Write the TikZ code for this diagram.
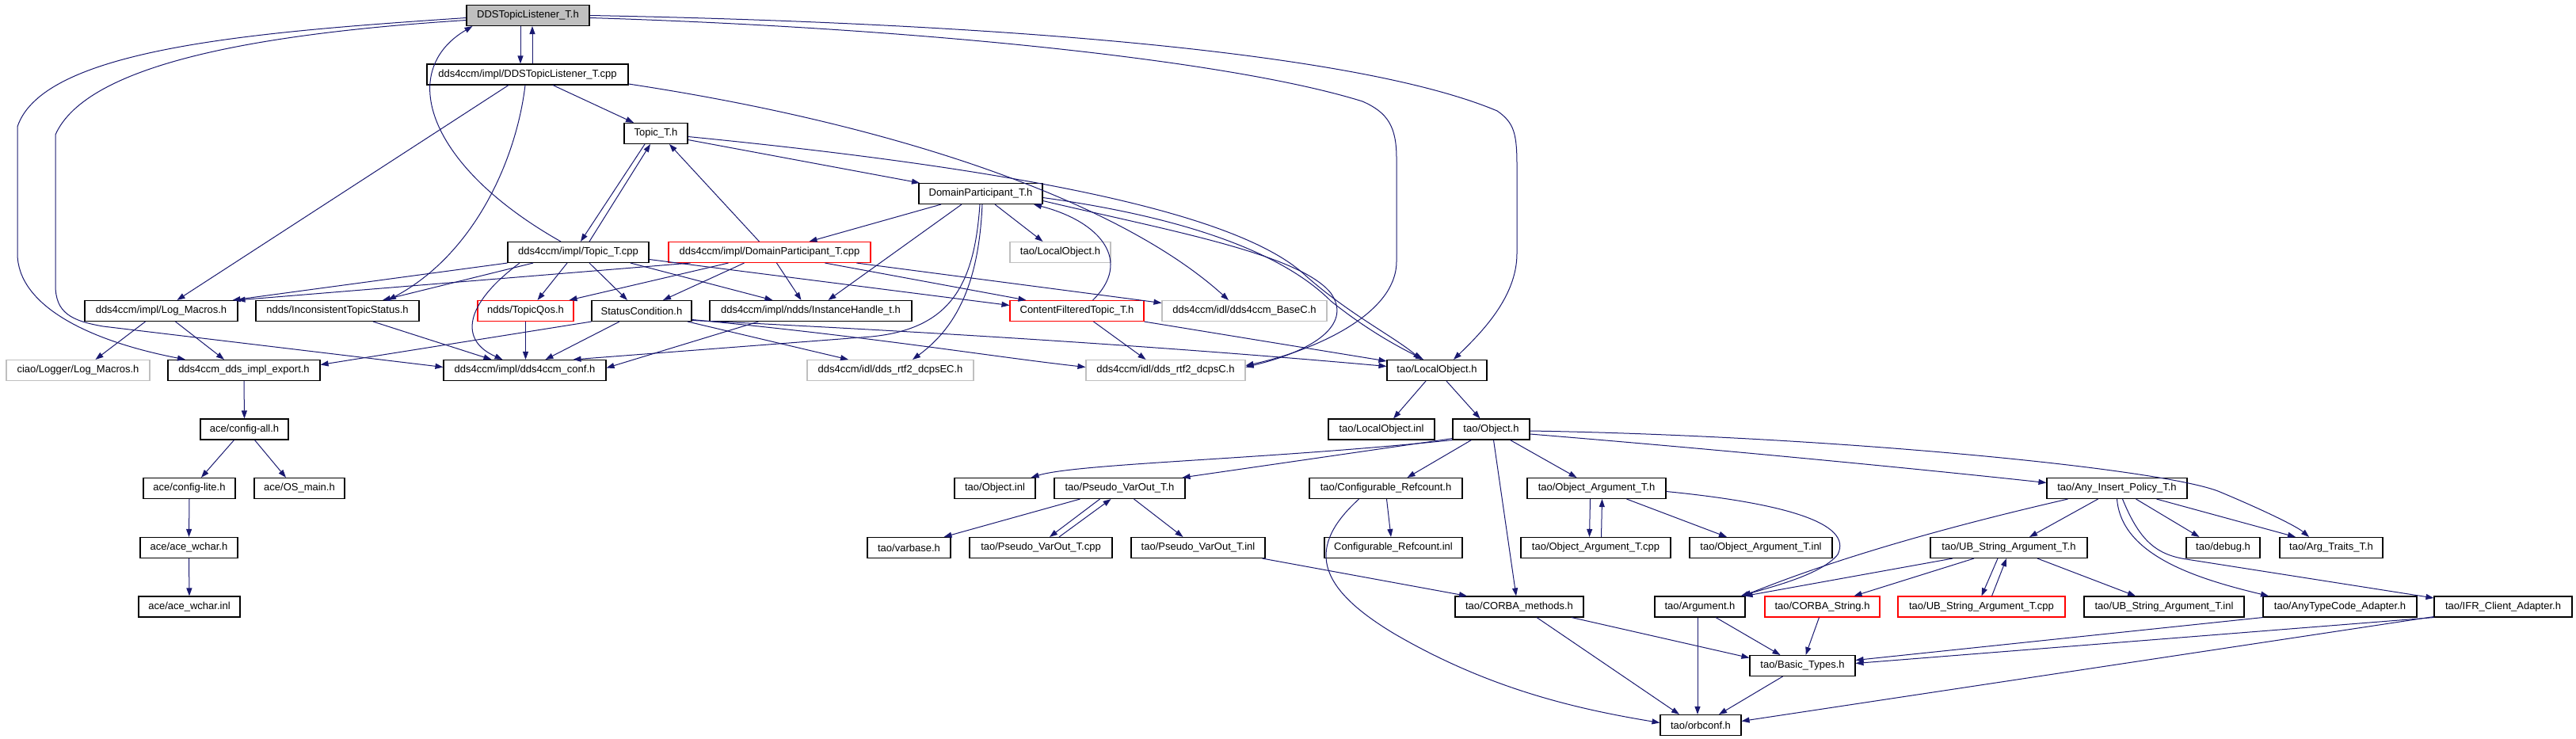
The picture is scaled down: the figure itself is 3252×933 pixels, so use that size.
\documentclass[tikz,border=0pt]{standalone}
\usepackage{fontspec}
\setmainfont{Liberation Sans}
\usetikzlibrary{arrows.meta}
\definecolor{edgeblue}{HTML}{191970}
\definecolor{boxgrey}{HTML}{BFBFBF}

\begin{document}
\begin{tikzpicture}[x=1pt,y=-1pt,
		filebox/.style={draw=black, line width=1.1pt, inner sep=0pt, minimum height=26pt, font=\fontsize{13}{15}\selectfont},
		redbox/.style={filebox, draw=red},
		greybox/.style={filebox, draw=boxgrey},
		incl/.style={draw=edgeblue, line width=1pt, -{Triangle[length=10pt,width=7pt]}}]
		\useasboundingbox (0,0) rectangle (3252,933);
		\node[filebox, fill=boxgrey, minimum width=155pt] (ddsh) at (666.5,19.5) {DDSTopicListener\_T.h};
		\node[filebox, minimum width=254pt] (ddscpp) at (666,94) {dds4ccm/impl/DDSTopicListener\_T.cpp};
		\node[filebox, minimum width=80pt] (topich) at (828,168.5) {Topic\_T.h};
		\node[filebox, minimum width=156pt] (dph) at (1238,244.5) {DomainParticipant\_T.h};
		\node[filebox, minimum width=178pt] (topiccpp) at (730,318.5) {dds4ccm/impl/Topic\_T.cpp};
		\node[redbox, minimum width=255pt] (dpcpp) at (971.5,318.5) {dds4ccm/impl/DomainParticipant\_T.cpp};
		\node[greybox, minimum width=127pt] (localobjg) at (1338.5,318.5) {tao/LocalObject.h};
		\node[filebox, minimum width=193pt] (logmac) at (203.5,392.5) {dds4ccm/impl/Log\_Macros.h};
		\node[filebox, minimum width=206pt] (incons) at (426,392.5) {ndds/InconsistentTopicStatus.h};
		\node[redbox, minimum width=121pt] (topicqos) at (663.5,392.5) {ndds/TopicQos.h};
		\node[filebox, minimum width=126pt] (statcond) at (810,392.5) {StatusCondition.h};
		\node[filebox, minimum width=255pt] (insthandle) at (1023.5,392.5) {dds4ccm/impl/ndds/InstanceHandle\_t.h};
		\node[redbox, minimum width=169pt] (cftopic) at (1359.5,392.5) {ContentFilteredTopic\_T.h};
		\node[greybox, minimum width=208pt] (basec) at (1571,392.5) {dds4ccm/idl/dds4ccm\_BaseC.h};
		\node[greybox, minimum width=181pt] (ciaolog) at (98.5,467.5) {ciao/Logger/Log\_Macros.h};
		\node[filebox, minimum width=192pt] (export) at (308,467.5) {dds4ccm\_dds\_impl\_export.h};
		\node[filebox, minimum width=205pt] (conf) at (662.5,467.5) {dds4ccm/impl/dds4ccm\_conf.h};
		\node[greybox, minimum width=210pt] (dcpsec) at (1124,467.5) {dds4ccm/idl/dds\_rtf2\_dcpsEC.h};
		\node[greybox, minimum width=201pt] (dcpsc) at (1471.5,467.5) {dds4ccm/idl/dds\_rtf2\_dcpsC.h};
		\node[filebox, minimum width=126pt] (localobj) at (1814,467.5) {tao/LocalObject.h};
		\node[filebox, minimum width=111pt] (configall) at (308.5,542) {ace/config-all.h};
		\node[filebox, minimum width=134pt] (localinl) at (1744,542) {tao/LocalObject.inl};
		\node[filebox, minimum width=97pt] (objecth) at (1882.5,542) {tao/Object.h};
		\node[filebox, minimum width=116pt] (configlite) at (239,616.5) {ace/config-lite.h};
		\node[filebox, minimum width=114pt] (osmain) at (378,616.5) {ace/OS\_main.h};
		\node[filebox, minimum width=102pt] (objinl) at (1256,616.5) {tao/Object.inl};
		\node[filebox, minimum width=165pt] (pvoh) at (1413.5,616.5) {tao/Pseudo\_VarOut\_T.h};
		\node[filebox, minimum width=193pt] (confref) at (1749.5,616.5) {tao/Configurable\_Refcount.h};
		\node[filebox, minimum width=175pt] (objargh) at (2015.5,616.5) {tao/Object\_Argument\_T.h};
		\node[filebox, minimum width=177pt] (anyins) at (2672.5,616.5) {tao/Any\_Insert\_Policy\_T.h};
		\node[filebox, minimum width=123pt] (wcharh) at (238.5,691.5) {ace/ace\_wchar.h};
		\node[filebox, minimum width=105pt] (varbase) at (1147.5,691.5) {tao/varbase.h};
		\node[filebox, minimum width=180pt] (pvocpp) at (1314,691.5) {tao/Pseudo\_VarOut\_T.cpp};
		\node[filebox, minimum width=169pt] (pvoinl) at (1512.5,691.5) {tao/Pseudo\_VarOut\_T.inl};
		\node[filebox, minimum width=174pt] (confrefinl) at (1759,691.5) {Configurable\_Refcount.inl};
		\node[filebox, minimum width=189pt] (objargcpp) at (2014.5,691.5) {tao/Object\_Argument\_T.cpp};
		\node[filebox, minimum width=180pt] (objarginl) at (2223,691.5) {tao/Object\_Argument\_T.inl};
		\node[filebox, minimum width=198pt] (ubargh) at (2536,691.5) {tao/UB\_String\_Argument\_T.h};
		\node[filebox, minimum width=93pt] (debugh) at (2806.5,691.5) {tao/debug.h};
		\node[filebox, minimum width=130pt] (argtraits) at (2943,691.5) {tao/Arg\_Traits\_T.h};
		\node[filebox, minimum width=128pt] (wcharinl) at (239,766) {ace/ace\_wchar.inl};
		\node[filebox, minimum width=162pt] (corbameth) at (1918,766) {tao/CORBA\_methods.h};
		\node[filebox, minimum width=114pt] (argh) at (2146,766) {tao/Argument.h};
		\node[redbox, minimum width=145pt] (corbastr) at (2300.5,766) {tao/CORBA\_String.h};
		\node[redbox, minimum width=211pt] (ubargcpp) at (2501.5,766) {tao/UB\_String\_Argument\_T.cpp};
		\node[filebox, minimum width=202pt] (ubarginl) at (2732,766) {tao/UB\_String\_Argument\_T.inl};
		\node[filebox, minimum width=194pt] (anytc) at (2954,766) {tao/AnyTypeCode\_Adapter.h};
		\node[filebox, minimum width=174pt] (ifr) at (3160,766) {tao/IFR\_Client\_Adapter.h};
		\node[filebox, minimum width=133pt] (basict) at (2275.5,840.5) {tao/Basic\_Types.h};
		\node[filebox, minimum width=102pt] (orbconf) at (2147,915.5) {tao/orbconf.h};

		\draw[incl] ([xshift=-9.5pt]ddsh.south) -- ([xshift=-9pt]ddscpp.north);
		\draw[incl] ([xshift=6pt]ddscpp.north) -- ([xshift=5.5pt]ddsh.south);
		\draw[incl] ([yshift=-3pt]ddsh.west) .. controls (330,40) and (55,60) .. (22,160) -- (22,320) .. controls (22,385) and (110,430) .. ([xshift=-74pt]export.north);
		\draw[incl] ([yshift=-6pt]ddsh.west) .. controls (330,42) and (110,80) .. (70,170) -- (70,360) .. controls (70,395) and (90,405) .. (130,412) -- ([yshift=4pt]conf.west);
		\draw[incl] (ddsh.east) .. controls (1200,28) and (1700,60) .. (1890,140) .. controls (1912,155) and (1915,170) .. (1915,210) -- (1915,320) .. controls (1915,375) and (1870,420) .. ([xshift=21pt]localobj.north);
		\draw[incl] ([yshift=-3pt]ddsh.east) .. controls (1150,35) and (1550,75) .. (1720,128) .. controls (1752,142) and (1763,160) .. (1763,200) -- (1763,330) .. controls (1763,400) and (1650,445) .. ([yshift=6pt]dcpsc.east);
		\draw[incl] ([xshift=32pt]ddscpp.south) -- ([xshift=-28pt]topich.north);
		\draw[incl] ([xshift=-24pt]ddscpp.south) -- ([xshift=20pt]logmac.north);
		\draw[incl] ([xshift=-3pt]ddscpp.south) .. controls (652,200) and (600,320) .. ([xshift=64pt]incons.north);
		\draw[incl] ([yshift=-12pt]ddscpp.east) .. controls (1150,160) and (1420,260) .. ([xshift=-20pt]basec.north);

		\draw[incl] ([yshift=-8pt]topich.east) -- ([xshift=-77pt]dph.north);
		\draw[incl] ([yshift=-4pt]topich.east) .. controls (1300,215) and (1560,270) .. (1645,345) .. controls (1700,395) and (1760,425) .. ([xshift=-20pt]localobj.north);
		\draw[incl] ([xshift=-14pt]topich.south) -- ([xshift=3pt]topiccpp.north);
		\draw[incl] ([xshift=14pt]topiccpp.north) -- ([xshift=-7pt]topich.south);
		\draw[incl] ([xshift=-13pt]dpcpp.north) -- ([xshift=17pt]topich.south);
		\draw[incl] ([xshift=-22pt]topiccpp.north) .. controls (540,210) and (500,90) .. ([xshift=-70pt]ddsh.south);

		\draw[incl] ([xshift=-50pt]dph.south) -- ([xshift=50pt]dpcpp.north);
		\draw[incl] ([xshift=-24pt]dph.south) -- ([xshift=22pt]insthandle.north);
		\draw[incl] ([xshift=18pt]dph.south) -- ([xshift=-22pt]localobjg.north);
		\draw[incl] ([xshift=-1pt]dph.south) .. controls (1230,360) and (1200,415) .. (1100,425) -- ([xshift=61pt]conf.north);
		\draw[incl] ([xshift=2pt]dph.south) .. controls (1236,350) and (1212,410) .. ([xshift=28pt]dcpsec.north);
		\draw[incl] ([yshift=-9pt]dph.east) .. controls (1470,290) and (1640,320) .. (1680,370) .. controls (1705,405) and (1670,440) .. ([yshift=4pt]dcpsc.east);
		\draw[incl] ([yshift=-5pt]dph.east) .. controls (1500,275) and (1620,320) .. (1680,380) .. controls (1730,420) and (1770,440) .. ([xshift=-17pt]localobj.north);
		\draw[incl] ([xshift=20pt]cftopic.north) .. controls (1430,330) and (1390,280) .. ([xshift=67pt]dph.south);

		\draw[incl] (topiccpp.south west) -- ([xshift=90pt]logmac.north);
		\draw[incl] ([xshift=-57pt]topiccpp.south) -- ([xshift=57pt]incons.north);
		\draw[incl] ([xshift=-14pt]topiccpp.south) -- ([xshift=15pt]topicqos.north);
		\draw[incl] ([xshift=14pt]topiccpp.south) -- ([xshift=-18pt]statcond.north);
		\draw[incl] ([xshift=66pt]topiccpp.south) -- ([xshift=-48pt]insthandle.north);
		\draw[incl] ([xshift=-74pt]topiccpp.south) .. controls (585,385) and (580,430) .. ([xshift=-28pt]conf.north);
		\draw[incl] ([yshift=-9pt]topiccpp.east) -- ([yshift=7pt]cftopic.west);
		\draw[incl] ([xshift=-100pt]dpcpp.south) -- ([xshift=96pt]logmac.north);
		\draw[incl] ([xshift=-52pt]dpcpp.south) -- ([xshift=55pt]topicqos.north);
		\draw[incl] ([xshift=-32pt]dpcpp.south) -- ([xshift=27pt]statcond.north);
		\draw[incl] ([xshift=9pt]dpcpp.south) -- ([xshift=-12pt]insthandle.north);
		\draw[incl] ([xshift=70pt]dpcpp.south) -- ([xshift=-64pt]cftopic.north);
		\draw[incl] ([xshift=110pt]dpcpp.south) -- ([yshift=10pt]basec.west);

		\draw[incl] ([xshift=-20pt]logmac.south) -- ([xshift=22pt]ciaolog.north);
		\draw[incl] ([xshift=18pt]logmac.south) -- ([xshift=-25pt]export.north);
		\draw[incl] ([xshift=45pt]incons.south) -- ([xshift=-42pt]conf.north);
		\draw[incl] (topicqos.south) -- ([xshift=1pt]conf.north);
		\draw[incl] ([xshift=-28pt]statcond.south) -- ([xshift=26pt]conf.north);
		\draw[incl] (statcond.south west) -- ([yshift=7pt]export.east);
		\draw[incl] ([xshift=58pt]statcond.south) -- ([xshift=-53pt]dcpsec.north);
		\draw[incl] ([yshift=-11pt]statcond.east) .. controls (1100,425) and (1250,450) .. ([yshift=4pt]dcpsc.west);
		\draw[incl] ([yshift=-12pt]statcond.east) .. controls (1200,420) and (1500,440) .. ([yshift=5pt]localobj.west);
		\draw[incl] ([xshift=-66pt]insthandle.south) -- ([yshift=3pt]conf.east);
		\draw[incl] ([xshift=21pt]cftopic.south) -- ([xshift=-25pt]dcpsc.north);
		\draw[incl] (cftopic.south east) -- ([yshift=-2pt]localobj.north west);

		\draw[incl] (export.south) -- (configall.north);
		\draw[incl] ([xshift=-13pt]configall.south) -- ([xshift=15pt]configlite.north);
		\draw[incl] ([xshift=13pt]configall.south) -- ([xshift=-17pt]osmain.north);
		\draw[incl] (configlite.south) -- (wcharh.north);
		\draw[incl] (wcharh.south) -- (wcharinl.north);

		\draw[incl] ([xshift=-14pt]localobj.south) -- ([xshift=15pt]localinl.north);
		\draw[incl] ([xshift=12pt]localobj.south) -- ([xshift=-14pt]objecth.north);
		\draw[incl] (objecth.south west) .. controls (1600,580) and (1360,585) .. ([xshift=-6pt]objinl.north east);
		\draw[incl] ([yshift=2pt]objecth.south west) -- ([xshift=-4pt]pvoh.north east);
		\draw[incl] ([xshift=-25pt]objecth.south) -- ([xshift=27pt]confref.north);
		\draw[incl] ([xshift=3pt]objecth.south) -- ([xshift=-4pt]corbameth.north);
		\draw[incl] ([xshift=24pt]objecth.south) -- ([xshift=-25pt]objargh.north);
		\draw[incl] ([yshift=-6pt]objecth.east) .. controls (2200,570) and (2450,595) .. ([yshift=7pt]anyins.west);
		\draw[incl] ([yshift=-2pt]objecth.east) .. controls (2300,550) and (2720,590) .. (2800,620) .. controls (2860,645) and (2900,665) .. ([xshift=-28pt]argtraits.north);

		\draw[incl] ([xshift=-50pt]pvoh.south) -- ([xshift=44pt]varbase.north);
		\draw[incl] ([xshift=-25pt]pvoh.south) -- ([xshift=11pt]pvocpp.north);
		\draw[incl] ([xshift=23pt]pvocpp.north) -- ([xshift=-11pt]pvoh.south);
		\draw[incl] ([xshift=18pt]pvoh.south) -- ([xshift=-19pt]pvoinl.north);
		\draw[incl] ([xshift=1pt]confref.south) -- ([xshift=-3pt]confrefinl.north);
		\draw[incl] ([xshift=-34pt]confref.south) .. controls (1650,690) and (1660,740) .. (1760,800) .. controls (1880,870) and (1990,895) .. ([yshift=3pt]orbconf.west);
		\draw[incl] ([xshift=-8pt]objargh.south) -- ([xshift=-8pt]objargcpp.north);
		\draw[incl] ([xshift=7pt]objargcpp.north) -- ([xshift=7pt]objargh.south);
		\draw[incl] ([xshift=38pt]objargh.south) -- ([xshift=-43pt]objarginl.north);
		\draw[incl] ([yshift=-4pt]objargh.east) .. controls (2250,635) and (2340,660) .. (2320,700) .. controls (2300,725) and (2240,740) .. ([xshift=-6pt]argh.north east);
		\draw[incl] ([xshift=-4pt]pvoinl.south east) -- ([xshift=-66pt]corbameth.north);

		\draw[incl] ([xshift=-62pt]anyins.south) .. controls (2480,660) and (2330,700) .. ([xshift=-3pt]argh.north east);
		\draw[incl] ([xshift=-24pt]anyins.south) -- ([xshift=26pt]ubargh.north);
		\draw[incl] (anyins.south) .. controls (2678,700) and (2770,730) .. ([xshift=-90pt]anytc.north);
		\draw[incl] ([xshift=7pt]anyins.south) .. controls (2700,680) and (2720,700) .. (2760,706) -- ([yshift=11pt]ifr.west);
		\draw[incl] ([xshift=24pt]anyins.south) -- ([xshift=-30pt]debugh.north);
		\draw[incl] ([xshift=50pt]anyins.south) -- ([xshift=-45pt]argtraits.north);
		\draw[incl] ([xshift=-71pt]ubargh.south) -- ([xshift=-1pt]argh.north east);
		\draw[incl] ([xshift=-44pt]ubargh.south) -- ([xshift=40pt]corbastr.north);
		\draw[incl] ([xshift=-14pt]ubargh.south) -- (ubargcpp.north);
		\draw[incl] ([xshift=13pt]ubargcpp.north) -- ([xshift=-3pt]ubargh.south);
		\draw[incl] ([xshift=36pt]ubargh.south) -- ([xshift=-36pt]ubarginl.north);

		\draw[incl] ([xshift=22pt]corbameth.south) -- ([xshift=-27pt]orbconf.north);
		\draw[incl] ([xshift=66pt]corbameth.south) -- ([yshift=10pt]basict.west);
		\draw[incl] ([xshift=-3pt]argh.south) -- ([xshift=-4pt]orbconf.north);
		\draw[incl] ([xshift=20pt]argh.south) -- ([xshift=-28pt]basict.north);
		\draw[incl] ([xshift=-4pt]corbastr.south) -- ([xshift=4pt]basict.north);
		\draw[incl] (anytc.south west) -- ([yshift=7pt]basict.east);
		\draw[incl] (ifr.south west) -- ([yshift=3pt]basict.east);
		\draw[incl] ([yshift=1pt]ifr.south west) -- ([yshift=5pt]orbconf.east);
		\draw[incl] ([xshift=-25pt]basict.south) -- ([xshift=23pt]orbconf.north);
	\end{tikzpicture}
\end{document}
